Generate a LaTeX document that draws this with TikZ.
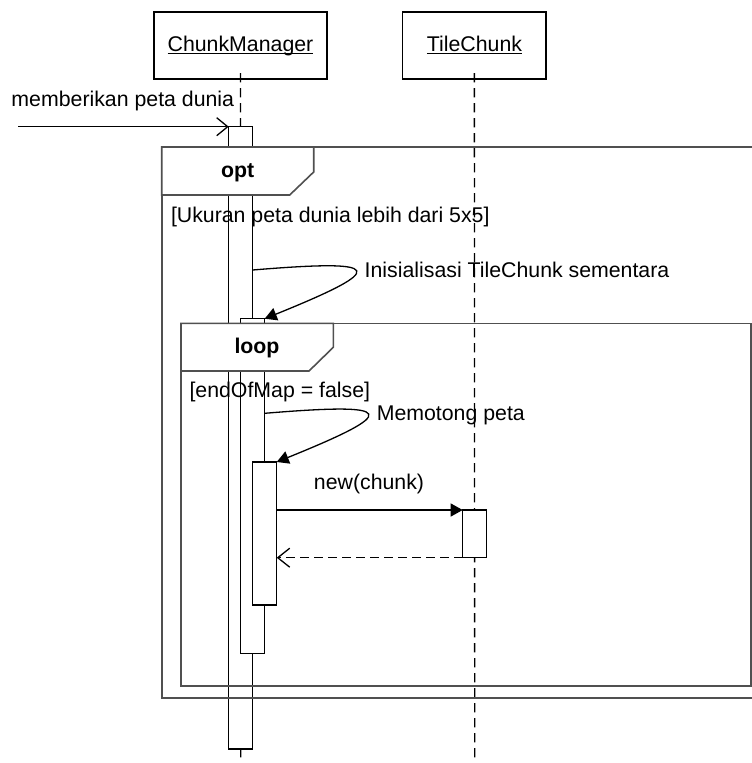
\documentclass[tikz,border=0pt]{standalone}
\usepackage{fontspec}
\setmainfont{Liberation Sans}
\usetikzlibrary{arrows.meta}
\definecolor{framegray}{RGB}{80,80,80}

\begin{document}
\begin{tikzpicture}[x=1pt,y=-1pt,
  every node/.style={inner sep=0pt, outer sep=0pt, font=\fontsize{21.3}{25}\selectfont},
  lifeline/.style={line width=1.3pt, dash pattern=on 9.3pt off 5.7pt},
  objbox/.style={draw, line width=1.3pt, rectangle},
  actbar/.style={draw, fill=white, line width=1.3pt, rectangle, anchor=north west},
  framebox/.style={draw=framegray, line width=1.6pt},
  tabbox/.style={draw=framegray, fill=white, line width=1.6pt},
  ulabel/.style={anchor=base},
  msglabel/.style={anchor=base west},
  call/.style={line width=1.3pt, -{Triangle[length=12pt,width=13pt]}},
  found/.style={line width=1.3pt, -{Straight Barb[length=11pt,width=18pt]}},
  reply/.style={line width=1.3pt, dash pattern=on 9pt off 5pt, -{Straight Barb[length=12pt,width=19pt]}},
]
\useasboundingbox (0,0) rectangle (752,763);
\clip (0,0) rectangle (752,763);

% object boxes
\node[objbox, minimum width=173pt, minimum height=67pt, anchor=north west] (cmbox) at (154,12) {};
\node[objbox, minimum width=143.3pt, minimum height=67pt, anchor=north west] (tcbox) at (402.7,12) {};
\node[ulabel] (cmname) at (240.5,51.8) {ChunkManager};
\node[ulabel] (tcname) at (474.5,51.8) {TileChunk};
\draw[line width=1.2pt] ([yshift=-1.6pt]cmname.base west) -- ([yshift=-1.6pt]cmname.base east);
\draw[line width=1.2pt] ([yshift=-1.6pt]tcname.base west) -- ([yshift=-1.6pt]tcname.base east);

% lifelines
\coordinate (cmend) at (240.7,763);
\coordinate (tcend) at (474.7,763);
\draw[lifeline] ([yshift=6pt]cmbox.south) -- (cmend);
\draw[lifeline] ([yshift=6pt]tcbox.south) -- (tcend);

% activation bars
\node[actbar, minimum width=24pt, minimum height=622.3pt] (b1) at (228.7,126.7) {};
\node[actbar, minimum width=24pt, minimum height=334.6pt] (b2) at (240.7,318.7) {};
\node[actbar, minimum width=24pt, minimum height=143pt] (b3) at (252.7,462) {};
\node[actbar, minimum width=24pt, minimum height=47.7pt] (b4) at (462.7,510) {};

% combined fragments
\draw[framebox] (161.7,147) rectangle (770,697.7);
\draw[tabbox] (161.7,147) -- (313.7,147) -- (313.7,172) -- (289.7,195) -- (161.7,195) -- cycle;
\node[ulabel, font=\fontsize{21.3}{25}\selectfont\bfseries] (optlbl) at (237.7,177.3) {opt};
\node[msglabel] (optguard) at (171,222) {[Ukuran peta dunia lebih dari 5x5]};

\draw[framebox] (181,323.3) rectangle (751,686);
\draw[tabbox] (181,323.3) -- (333.3,323.3) -- (333.3,347.3) -- (309,371) -- (181,371) -- cycle;
\node[ulabel, font=\fontsize{21.3}{25}\selectfont\bfseries] (looplbl) at (257,353.5) {loop};
\node[msglabel] (loopguard) at (189.5,397) {[endOfMap = false]};

% messages
\coordinate (src) at (18,126.7);
\draw[found] (src) -- (b1.north west);
\node[msglabel] (m0) at (11.5,106) {memberikan peta dunia};

\coordinate (s1) at (252.7,270);
\draw[call] (s1) .. controls (385,259) and (390,268) .. (b2.north east);
\node[msglabel] (m1) at (364.7,277.5) {Inisialisasi TileChunk sementara};

\coordinate (s2) at (264.7,413.3);
\draw[call] (s2) .. controls (397,402.3) and (402,411.3) .. (b3.north east);
\node[msglabel] (m2) at (376.8,420.8) {Memotong peta};

\draw[call] (b3.east |- b4.north west) -- (b4.north west);
\node[ulabel] (m3) at (369,489.3) {new(chunk)};
\draw[reply] (b4.south west) -- (b3.east |- b4.south west);
\end{tikzpicture}
\end{document}
